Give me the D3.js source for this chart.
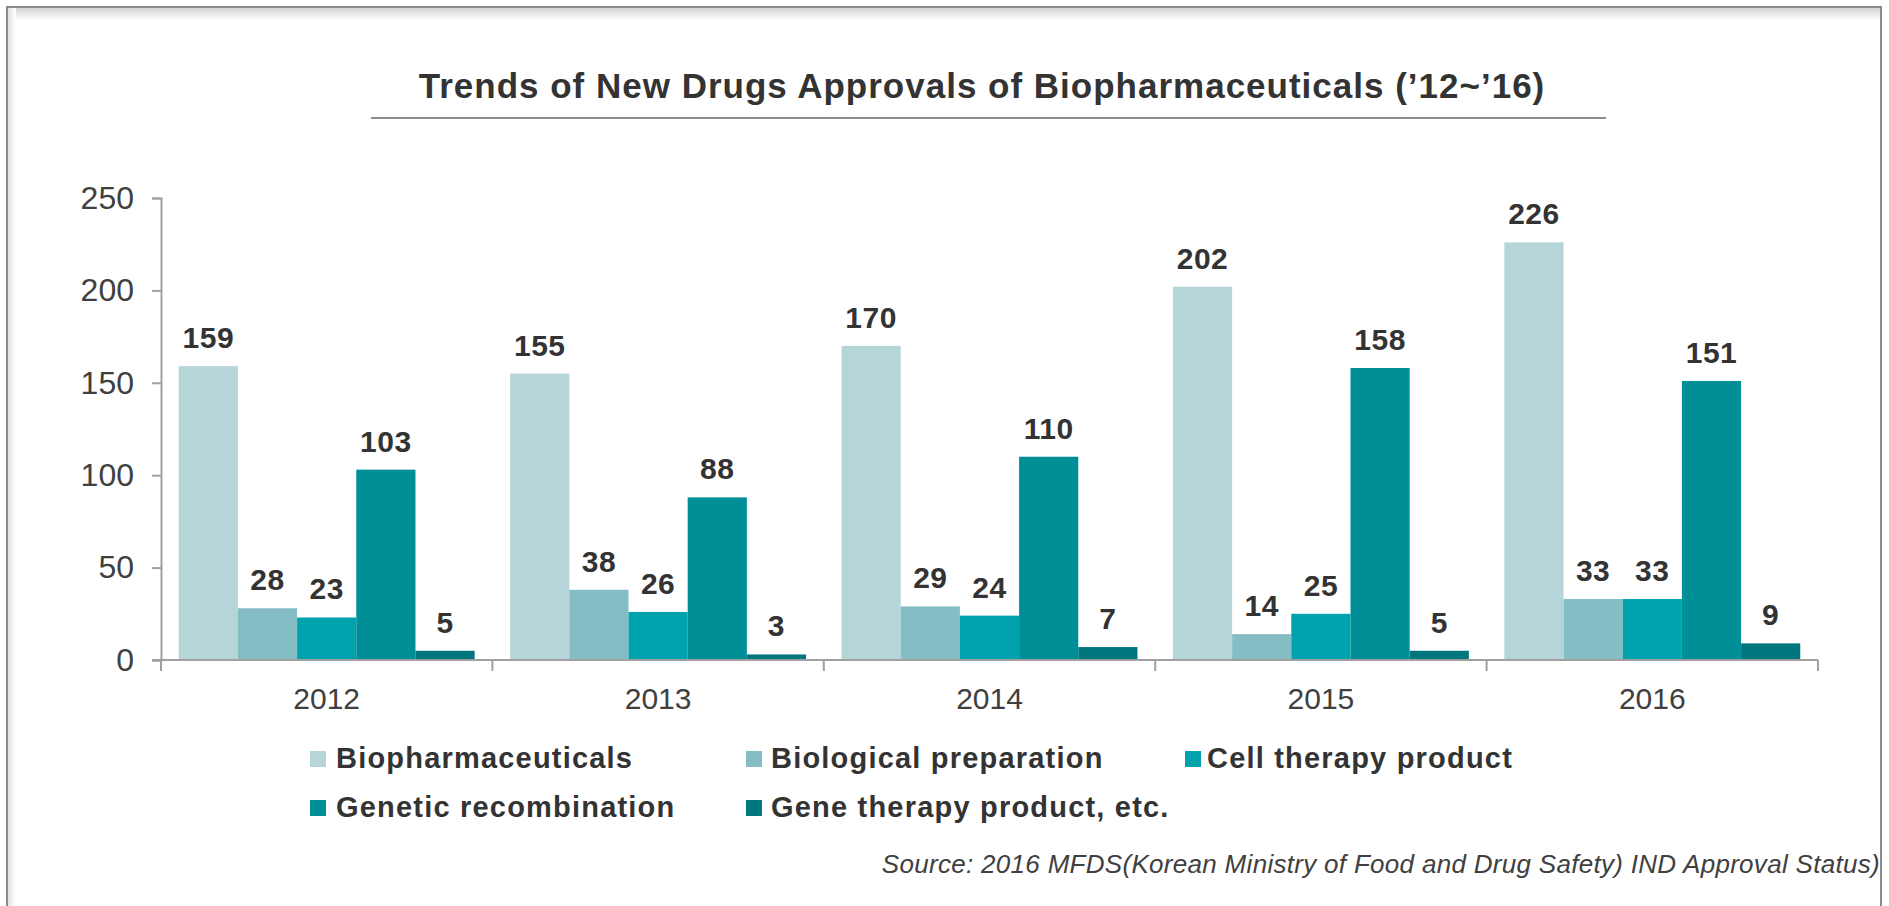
<!DOCTYPE html>
<html>
<head>
<meta charset="utf-8">
<script src="https://cdn.jsdelivr.net/npm/d3@7"></script>
<style>
  html, body { margin: 0; padding: 0; background: #fff; }
  svg { display: block; font-family: "Liberation Sans", Arial, sans-serif; }
</style>
</head>
<body>
<div id="chart"></div>
<script>
const years = ['2012', '2013', '2014', '2015', '2016'];
const seriesNames = ['Biopharmaceuticals', 'Biological preparation', 'Cell therapy product',
  'Genetic recombination', 'Gene therapy product, etc.'];
const biopharmaceuticals = [159, 155, 170, 202, 226];
const biologicalPreparation = [28, 38, 29, 14, 33];
const cellTherapy = [23, 26, 24, 25, 33];
const geneticRecombination = [103, 88, 110, 158, 151];
const geneTherapy = [5, 3, 7, 5, 9];
const yTicks = [0, 50, 100, 150, 200, 250];
const colors = ['#b6d5d8', '#85bdc5', '#00a3ad', '#008f97', '#00767e'];

const title = 'Trends of New Drugs Approvals of Biopharmaceuticals (\u201912~\u201916)';
const source = 'Source: 2016 MFDS(Korean Ministry of Food and Drug Safety) IND Approval Status)';

const allSeries = [biopharmaceuticals, biologicalPreparation, cellTherapy, geneticRecombination, geneTherapy];
const rows = years.map((year, i) => ({
  year: year,
  values: seriesNames.map((name, s) => ({ name: name, value: allSeries[s][i] }))
}));

const width = 1889;
const height = 906;
const plot = { left: 161, right: 1818, top: 198, bottom: 660 };

const svg = d3.select('#chart')
  .append('svg')
  .attr('width', width)
  .attr('height', height);

// frame with a soft inner shadow on top and left
const defs = svg.append('defs');
const shadowTop = defs.append('linearGradient').attr('id', 'shTop')
  .attr('x1', 0).attr('y1', 0).attr('x2', 0).attr('y2', 1);
shadowTop.append('stop').attr('offset', 0).attr('stop-color', '#d4d4d4');
shadowTop.append('stop').attr('offset', 1).attr('stop-color', '#fff');
const shadowLeft = defs.append('linearGradient').attr('id', 'shLeft')
  .attr('x1', 0).attr('y1', 0).attr('x2', 1).attr('y2', 0);
shadowLeft.append('stop').attr('offset', 0).attr('stop-color', '#e2e2e2');
shadowLeft.append('stop').attr('offset', 1).attr('stop-color', '#fff');

svg.append('rect').attr('x', 8).attr('y', 8).attr('width', 1872).attr('height', 12)
  .attr('fill', 'url(#shTop)');
svg.append('rect').attr('x', 8).attr('y', 8).attr('width', 8).attr('height', 910)
  .attr('fill', 'url(#shLeft)');
svg.append('rect')
  .attr('x', 7).attr('y', 7)
  .attr('width', 1874).attr('height', 920)
  .attr('fill', 'none')
  .attr('stroke', '#8c8c8c')
  .attr('stroke-width', 2);

// title
svg.append('text')
  .attr('x', 982).attr('y', 98)
  .attr('text-anchor', 'middle')
  .attr('font-size', 35).attr('font-weight', 'bold')
  .attr('letter-spacing', 1)
  .attr('fill', '#333')
  .text(title);
svg.append('line')
  .attr('x1', 371).attr('x2', 1606)
  .attr('y1', 118).attr('y2', 118)
  .attr('stroke', '#8c8c8c').attr('stroke-width', 2);

// scales
const x0 = d3.scaleBand()
  .domain(years)
  .range([plot.left, plot.right])
  .padding(0);
const x1 = d3.scaleBand()
  .domain(seriesNames)
  .range([0, x0.bandwidth()])
  .paddingInner(0)
  .paddingOuter(0.3);
const y = d3.scaleLinear()
  .domain([0, 250])
  .range([plot.bottom, plot.top]);
const color = d3.scaleOrdinal().domain(seriesNames).range(colors);

// bars
const groups = svg.selectAll('g.year')
  .data(rows).enter()
  .append('g')
  .attr('class', 'year')
  .attr('transform', d => `translate(${x0(d.year)},0)`);

groups.selectAll('rect')
  .data(d => d.values).enter()
  .append('rect')
  .attr('x', d => x1(d.name))
  .attr('y', d => y(d.value))
  .attr('width', x1.bandwidth())
  .attr('height', d => y(0) - y(d.value))
  .attr('fill', d => color(d.name));

groups.selectAll('text.val')
  .data(d => d.values).enter()
  .append('text')
  .attr('class', 'val')
  .attr('x', d => x1(d.name) + x1.bandwidth() / 2)
  .attr('y', d => y(d.value) - 18)
  .attr('text-anchor', 'middle')
  .attr('font-size', 30).attr('font-weight', 'bold')
  .attr('letter-spacing', 0.5)
  .attr('fill', '#333')
  .text(d => d.value);

// y axis
const yAxis = svg.append('g')
  .attr('transform', `translate(${plot.left},0)`)
  .call(d3.axisLeft(y).tickValues(yTicks).tickSize(9).tickPadding(18));
yAxis.select('.domain').attr('stroke', '#a0a0a0').attr('stroke-width', 2);
yAxis.selectAll('.tick line').attr('stroke', '#a0a0a0').attr('stroke-width', 2);
yAxis.selectAll('.tick text')
  .attr('font-size', 32)
  .attr('font-family', '"Liberation Sans", Arial, sans-serif')
  .attr('fill', '#404040');

// x axis: line, boundary ticks and year labels
const xAxis = svg.append('g');
xAxis.append('line')
  .attr('x1', plot.left - 9).attr('x2', plot.right)
  .attr('y1', y(0)).attr('y2', y(0))
  .attr('stroke', '#a0a0a0').attr('stroke-width', 2);
const bounds = years.map(d => x0(d)).concat([plot.right]);
xAxis.selectAll('line.tick')
  .data(bounds).enter()
  .append('line')
  .attr('class', 'tick')
  .attr('x1', d => d).attr('x2', d => d)
  .attr('y1', y(0)).attr('y2', y(0) + 11)
  .attr('stroke', '#a0a0a0').attr('stroke-width', 2);
xAxis.selectAll('text')
  .data(years).enter()
  .append('text')
  .attr('x', d => x0(d) + x0.bandwidth() / 2)
  .attr('y', 709)
  .attr('text-anchor', 'middle')
  .attr('font-size', 30)
  .attr('fill', '#404040')
  .text(d => d);

// legend
const legendPos = [
  { sx: 310, tx: 336, y: 768 },
  { sx: 746, tx: 771, y: 768 },
  { sx: 1185, tx: 1207, y: 768 },
  { sx: 310, tx: 336, y: 817 },
  { sx: 746, tx: 771, y: 817 }
];
const legend = svg.selectAll('g.legend')
  .data(seriesNames).enter()
  .append('g')
  .attr('class', 'legend');
legend.append('rect')
  .attr('x', (d, i) => legendPos[i].sx)
  .attr('y', (d, i) => legendPos[i].y - 17)
  .attr('width', 16).attr('height', 16)
  .attr('fill', d => color(d));
legend.append('text')
  .attr('x', (d, i) => legendPos[i].tx)
  .attr('y', (d, i) => legendPos[i].y)
  .attr('font-size', 29).attr('font-weight', 'bold')
  .attr('letter-spacing', 1.2)
  .attr('fill', '#333')
  .text(d => d);

// source note
svg.append('text')
  .attr('x', 1880).attr('y', 873)
  .attr('text-anchor', 'end')
  .attr('font-size', 26).attr('font-style', 'italic')
  .attr('letter-spacing', 0.3)
  .attr('fill', '#404040')
  .text(source);
</script>
</body>
</html>
